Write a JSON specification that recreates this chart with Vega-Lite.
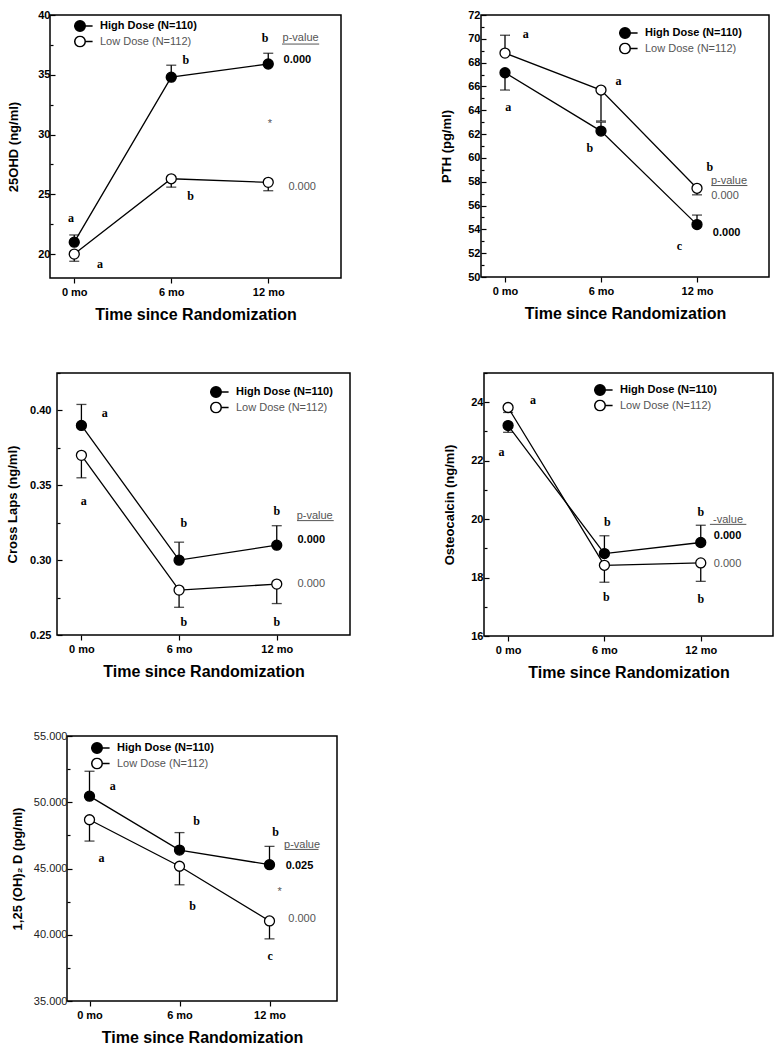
{
  "$schema": "https://vega.github.io/schema/vega-lite/v6.json",
  "padding": {"left": 2, "top": 8, "right": 2, "bottom": 2},
  "background": "white",
  "datasets": {
    "pts": [
      {"p": 1, "g": "High Dose (N=110)", "t": 0, "v": 21.0, "e": 21.6},
      {"p": 1, "g": "High Dose (N=110)", "t": 6, "v": 34.8, "e": 35.8},
      {"p": 1, "g": "High Dose (N=110)", "t": 12, "v": 35.9, "e": 36.8},
      {"p": 1, "g": "Low Dose (N=112)", "t": 0, "v": 20.0, "e": 19.4},
      {"p": 1, "g": "Low Dose (N=112)", "t": 6, "v": 26.3, "e": 25.6},
      {"p": 1, "g": "Low Dose (N=112)", "t": 12, "v": 26.0, "e": 25.3},
      {"p": 2, "g": "High Dose (N=110)", "t": 0, "v": 67.15, "e": 65.7},
      {"p": 2, "g": "High Dose (N=110)", "t": 6, "v": 62.25, "e": 63.0},
      {"p": 2, "g": "High Dose (N=110)", "t": 12, "v": 54.4, "e": 55.2},
      {"p": 2, "g": "Low Dose (N=112)", "t": 0, "v": 68.8, "e": 70.3},
      {"p": 2, "g": "Low Dose (N=112)", "t": 6, "v": 65.7, "e": 63.1},
      {"p": 2, "g": "Low Dose (N=112)", "t": 12, "v": 57.45, "e": 56.9},
      {"p": 3, "g": "High Dose (N=110)", "t": 0, "v": 0.390, "e": 0.404},
      {"p": 3, "g": "High Dose (N=110)", "t": 6, "v": 0.300, "e": 0.312},
      {"p": 3, "g": "High Dose (N=110)", "t": 12, "v": 0.310, "e": 0.323},
      {"p": 3, "g": "Low Dose (N=112)", "t": 0, "v": 0.370, "e": 0.355},
      {"p": 3, "g": "Low Dose (N=112)", "t": 6, "v": 0.280, "e": 0.2685},
      {"p": 3, "g": "Low Dose (N=112)", "t": 12, "v": 0.284, "e": 0.271},
      {"p": 4, "g": "High Dose (N=110)", "t": 0, "v": 23.2, "e": 22.97},
      {"p": 4, "g": "High Dose (N=110)", "t": 6, "v": 18.82, "e": 19.43},
      {"p": 4, "g": "High Dose (N=110)", "t": 12, "v": 19.2, "e": 19.79},
      {"p": 4, "g": "Low Dose (N=112)", "t": 0, "v": 23.82, "e": 23.65},
      {"p": 4, "g": "Low Dose (N=112)", "t": 6, "v": 18.42, "e": 17.84},
      {"p": 4, "g": "Low Dose (N=112)", "t": 12, "v": 18.5, "e": 17.87},
      {"p": 5, "g": "High Dose (N=110)", "t": 0, "v": 50.46, "e": 52.34},
      {"p": 5, "g": "High Dose (N=110)", "t": 6, "v": 46.39, "e": 47.71},
      {"p": 5, "g": "High Dose (N=110)", "t": 12, "v": 45.29, "e": 46.67},
      {"p": 5, "g": "Low Dose (N=112)", "t": 0, "v": 48.68, "e": 47.07},
      {"p": 5, "g": "Low Dose (N=112)", "t": 6, "v": 45.17, "e": 43.77},
      {"p": 5, "g": "Low Dose (N=112)", "t": 12, "v": 41.04, "e": 39.69}
    ],
    "notes": [
      {"p": 1, "k": "L", "t": -0.2, "v": 23.0, "s": "a"},
      {"p": 1, "k": "L", "t": 1.6, "v": 19.2, "s": "a"},
      {"p": 1, "k": "L", "t": 6.9, "v": 36.2, "s": "b"},
      {"p": 1, "k": "L", "t": 7.2, "v": 24.9, "s": "b"},
      {"p": 1, "k": "L", "t": 11.8, "v": 38.1, "s": "b"},
      {"p": 1, "k": "G", "t": 14.0, "v": 38.1, "s": "p-value"},
      {"p": 1, "k": "G", "t": 14.1, "v": 25.6, "s": "0.000"},
      {"p": 1, "k": "G", "t": 12.1, "v": 30.9, "s": "*"},
      {"p": 1, "k": "B", "t": 13.8, "v": 36.2, "s": "0.000"},
      {"p": 2, "k": "L", "t": 1.3, "v": 70.4, "s": "a"},
      {"p": 2, "k": "L", "t": 0.2, "v": 64.3, "s": "a"},
      {"p": 2, "k": "L", "t": 7.1, "v": 66.45, "s": "a"},
      {"p": 2, "k": "L", "t": 5.3, "v": 60.8, "s": "b"},
      {"p": 2, "k": "L", "t": 12.8, "v": 59.2, "s": "b"},
      {"p": 2, "k": "L", "t": 10.9, "v": 52.6, "s": "c"},
      {"p": 2, "k": "G", "t": 14.0, "v": 58.05, "s": "p-value"},
      {"p": 2, "k": "G", "t": 13.75, "v": 56.8, "s": "0.000"},
      {"p": 2, "k": "B", "t": 13.85, "v": 53.7, "s": "0.000"},
      {"p": 3, "k": "L", "t": 1.44, "v": 0.398, "s": "a"},
      {"p": 3, "k": "L", "t": 0.14, "v": 0.3396, "s": "a"},
      {"p": 3, "k": "L", "t": 6.3, "v": 0.3247, "s": "b"},
      {"p": 3, "k": "L", "t": 6.3, "v": 0.2589, "s": "b"},
      {"p": 3, "k": "L", "t": 12.0, "v": 0.3331, "s": "b"},
      {"p": 3, "k": "L", "t": 12.0, "v": 0.2585, "s": "b"},
      {"p": 3, "k": "G", "t": 14.33, "v": 0.3298, "s": "p-value"},
      {"p": 3, "k": "G", "t": 14.12, "v": 0.2839, "s": "0.000"},
      {"p": 3, "k": "B", "t": 14.12, "v": 0.3135, "s": "0.000"},
      {"p": 4, "k": "L", "t": 1.55, "v": 24.08, "s": "a"},
      {"p": 4, "k": "L", "t": -0.41, "v": 22.3, "s": "a"},
      {"p": 4, "k": "L", "t": 6.18, "v": 19.9, "s": "b"},
      {"p": 4, "k": "L", "t": 6.12, "v": 17.33, "s": "b"},
      {"p": 4, "k": "L", "t": 12.0, "v": 20.23, "s": "b"},
      {"p": 4, "k": "L", "t": 12.0, "v": 17.26, "s": "b"},
      {"p": 4, "k": "G", "t": 13.7, "v": 19.97, "s": "-value"},
      {"p": 4, "k": "G", "t": 13.67, "v": 18.48, "s": "0.000"},
      {"p": 4, "k": "B", "t": 13.67, "v": 19.43, "s": "0.000"},
      {"p": 5, "k": "L", "t": 1.55, "v": 51.22, "s": "a"},
      {"p": 5, "k": "L", "t": 0.8, "v": 45.8, "s": "a"},
      {"p": 5, "k": "L", "t": 7.14, "v": 48.55, "s": "b"},
      {"p": 5, "k": "L", "t": 6.87, "v": 42.19, "s": "b"},
      {"p": 5, "k": "L", "t": 12.4, "v": 47.76, "s": "b"},
      {"p": 5, "k": "L", "t": 12.04, "v": 38.42, "s": "c"},
      {"p": 5, "k": "G", "t": 14.17, "v": 46.74, "s": "p-value"},
      {"p": 5, "k": "G", "t": 14.17, "v": 41.17, "s": "0.000"},
      {"p": 5, "k": "G", "t": 12.67, "v": 43.26, "s": "*"},
      {"p": 5, "k": "B", "t": 14.0, "v": 45.22, "s": "0.025"}
    ],
    "ul": [
      {"p": 1, "t": 12.85, "t2": 15.15, "v": 37.57},
      {"p": 2, "t": 12.9, "t2": 15.15, "v": 57.68},
      {"p": 3, "t": 13.25, "t2": 15.5, "v": 0.3264},
      {"p": 4, "t": 12.57, "t2": 14.84, "v": 19.82},
      {"p": 5, "t": 13.04, "t2": 15.27, "v": 46.44}
    ],
    "blank": [{"s": ""}]
  },
  "vconcat": [
    {
      "hconcat": [
        {"width": 5, "height": 10, "data": {"name": "blank"}, "mark": {"type": "text"}, "encoding": {"text": {"field": "s"}}, "view": {"stroke": null}},
        {
          "hconcat": [
            {
              "width": 291, "height": 263,
              "encoding": {
                "x": {"field": "t", "type": "quantitative", "scale": {"domain": [-1.5, 16.5], "nice": false, "zero": false}, "axis": {"values": [0, 6, 12], "labelExpr": "datum.value + ' mo'", "title": "Time since Randomization"}},
                "y": {"field": "v", "type": "quantitative", "scale": {"domain": [18, 40], "nice": false, "zero": false}, "axis": {"title": "25OHD (ng/ml)", "values": [20, 22.5, 25, 27.5, 30, 32.5, 35, 37.5, 40], "labelExpr": "datum.value % 5 == 0 ? datum.label : ''", "tickSize": {"condition": {"test": "datum.value % 5 != 0", "value": -3}, "value": -5}, "titlePadding": 17, "labelPadding": 5}}
              },
              "layer": [
                {"data": {"name": "pts"}, "transform": [{"filter": "datum.p == 1"}], "mark": {"type": "line", "color": "black", "strokeWidth": 1.3}, "encoding": {"detail": {"field": "g"}}},
                {"data": {"name": "pts"}, "transform": [{"filter": "datum.p == 1"}], "mark": {"type": "rule", "color": "black", "strokeWidth": 1.3}, "encoding": {"y2": {"field": "e"}}},
                {"data": {"name": "pts"}, "transform": [{"filter": "datum.p == 1"}], "mark": {"type": "tick", "orient": "horizontal", "size": 10, "thickness": 1.3, "color": "black"}, "encoding": {"y": {"field": "e", "type": "quantitative", "scale": {"domain": [18, 40], "nice": false, "zero": false}}}},
                {"data": {"name": "pts"}, "transform": [{"filter": "datum.p == 1"}], "mark": {"type": "point", "shape": "circle", "filled": true, "size": 100, "stroke": "black", "strokeWidth": 1.3, "opacity": 1}, "encoding": {"fill": {"field": "g", "type": "nominal", "scale": {"domain": ["High Dose (N=110)", "Low Dose (N=112)"], "range": ["black", "white"]}, "legend": {"orient": "none", "legendX": 24, "legendY": 5, "title": null}}}},
                {"data": {"name": "notes"}, "transform": [{"filter": "datum.p == 1 && datum.k == 'L'"}], "mark": {"type": "text", "style": "letter"}, "encoding": {"text": {"field": "s"}}},
                {"data": {"name": "notes"}, "transform": [{"filter": "datum.p == 1 && datum.k == 'B'"}], "mark": {"type": "text", "style": "pbold"}, "encoding": {"text": {"field": "s"}}},
                {"data": {"name": "notes"}, "transform": [{"filter": "datum.p == 1 && datum.k == 'G'"}], "mark": {"type": "text", "style": "pgray"}, "encoding": {"text": {"field": "s"}}},
                {"data": {"name": "ul"}, "transform": [{"filter": "datum.p == 1"}], "mark": {"type": "rule", "color": "#555555", "strokeWidth": 1}, "encoding": {"x2": {"field": "t2"}}}
              ]
            },
            {
              "width": 288, "height": 262,
              "encoding": {
                "x": {"field": "t", "type": "quantitative", "scale": {"domain": [-1.5, 16.5], "nice": false, "zero": false}, "axis": {"values": [0, 6, 12], "labelExpr": "datum.value + ' mo'", "title": "Time since Randomization"}},
                "y": {"field": "v", "type": "quantitative", "scale": {"domain": [50, 72], "nice": false, "zero": false}, "axis": {"title": "PTH (pg/ml)", "values": [50, 51, 52, 53, 54, 55, 56, 57, 58, 59, 60, 61, 62, 63, 64, 65, 66, 67, 68, 69, 70, 71, 72], "labelExpr": "datum.value % 2 == 0 ? datum.label : ''", "tickSize": {"condition": {"test": "datum.value % 2 != 0", "value": -3}, "value": -5}, "titlePadding": 14, "labelPadding": 6}}
              },
              "layer": [
                {"data": {"name": "pts"}, "transform": [{"filter": "datum.p == 2"}], "mark": {"type": "line", "color": "black", "strokeWidth": 1.3}, "encoding": {"detail": {"field": "g"}}},
                {"data": {"name": "pts"}, "transform": [{"filter": "datum.p == 2"}], "mark": {"type": "rule", "color": "black", "strokeWidth": 1.3}, "encoding": {"y2": {"field": "e"}}},
                {"data": {"name": "pts"}, "transform": [{"filter": "datum.p == 2"}], "mark": {"type": "tick", "orient": "horizontal", "size": 10, "thickness": 1.3, "color": "black"}, "encoding": {"y": {"field": "e", "type": "quantitative", "scale": {"domain": [50, 72], "nice": false, "zero": false}}}},
                {"data": {"name": "pts"}, "transform": [{"filter": "datum.p == 2"}], "mark": {"type": "point", "shape": "circle", "filled": true, "size": 100, "stroke": "black", "strokeWidth": 1.3, "opacity": 1}, "encoding": {"fill": {"field": "g", "type": "nominal", "scale": {"domain": ["High Dose (N=110)", "Low Dose (N=112)"], "range": ["black", "white"]}, "legend": {"orient": "none", "legendX": 138, "legendY": 12, "title": null}}}},
                {"data": {"name": "notes"}, "transform": [{"filter": "datum.p == 2 && datum.k == 'L'"}], "mark": {"type": "text", "style": "letter"}, "encoding": {"text": {"field": "s"}}},
                {"data": {"name": "notes"}, "transform": [{"filter": "datum.p == 2 && datum.k == 'B'"}], "mark": {"type": "text", "style": "pbold"}, "encoding": {"text": {"field": "s"}}},
                {"data": {"name": "notes"}, "transform": [{"filter": "datum.p == 2 && datum.k == 'G'"}], "mark": {"type": "text", "style": "pgray"}, "encoding": {"text": {"field": "s"}}},
                {"data": {"name": "ul"}, "transform": [{"filter": "datum.p == 2"}], "mark": {"type": "rule", "color": "#555555", "strokeWidth": 1}, "encoding": {"x2": {"field": "t2"}}}
              ]
            }
          ],
          "spacing": 98,
          "resolve": {"scale": {"fill": "independent"}, "legend": {"fill": "independent"}}
        }
      ],
      "spacing": 0,
      "resolve": {"scale": {"fill": "independent"}, "legend": {"fill": "independent"}}
    },
    {
      "hconcat": [
        {"width": 3, "height": 10, "data": {"name": "blank"}, "mark": {"type": "text"}, "encoding": {"text": {"field": "s"}}, "view": {"stroke": null}},
        {
          "hconcat": [
            {
              "width": 293, "height": 262,
              "encoding": {
                "x": {"field": "t", "type": "quantitative", "scale": {"domain": [-1.5, 16.5], "nice": false, "zero": false}, "axis": {"values": [0, 6, 12], "labelExpr": "datum.value + ' mo'", "title": "Time since Randomization"}},
                "y": {"field": "v", "type": "quantitative", "scale": {"domain": [0.25, 0.425], "nice": false, "zero": false}, "axis": {"title": "Cross Laps (ng/ml)", "format": ".2f", "values": [0.25, 0.275, 0.3, 0.325, 0.35, 0.375, 0.4, 0.425], "labelExpr": "round(datum.value * 40) % 2 == 0 ? datum.label : ''", "tickSize": {"condition": {"test": "round(datum.value * 40) % 2 != 0", "value": -3}, "value": -5}, "titlePadding": 10, "labelPadding": 11}}
              },
              "layer": [
                {"data": {"name": "pts"}, "transform": [{"filter": "datum.p == 3"}], "mark": {"type": "line", "color": "black", "strokeWidth": 1.3}, "encoding": {"detail": {"field": "g"}}},
                {"data": {"name": "pts"}, "transform": [{"filter": "datum.p == 3"}], "mark": {"type": "rule", "color": "black", "strokeWidth": 1.3}, "encoding": {"y2": {"field": "e"}}},
                {"data": {"name": "pts"}, "transform": [{"filter": "datum.p == 3"}], "mark": {"type": "tick", "orient": "horizontal", "size": 10, "thickness": 1.3, "color": "black"}, "encoding": {"y": {"field": "e", "type": "quantitative", "scale": {"domain": [0.25, 0.425], "nice": false, "zero": false}}}},
                {"data": {"name": "pts"}, "transform": [{"filter": "datum.p == 3"}], "mark": {"type": "point", "shape": "circle", "filled": true, "size": 100, "stroke": "black", "strokeWidth": 1.3, "opacity": 1}, "encoding": {"fill": {"field": "g", "type": "nominal", "scale": {"domain": ["High Dose (N=110)", "Low Dose (N=112)"], "range": ["black", "white"]}, "legend": {"orient": "none", "legendX": 153, "legendY": 13, "title": null}}}},
                {"data": {"name": "notes"}, "transform": [{"filter": "datum.p == 3 && datum.k == 'L'"}], "mark": {"type": "text", "style": "letter"}, "encoding": {"text": {"field": "s"}}},
                {"data": {"name": "notes"}, "transform": [{"filter": "datum.p == 3 && datum.k == 'B'"}], "mark": {"type": "text", "style": "pbold"}, "encoding": {"text": {"field": "s"}}},
                {"data": {"name": "notes"}, "transform": [{"filter": "datum.p == 3 && datum.k == 'G'"}], "mark": {"type": "text", "style": "pgray"}, "encoding": {"text": {"field": "s"}}},
                {"data": {"name": "ul"}, "transform": [{"filter": "datum.p == 3"}], "mark": {"type": "rule", "color": "#555555", "strokeWidth": 1}, "encoding": {"x2": {"field": "t2"}}}
              ]
            },
            {
              "width": 289, "height": 263,
              "encoding": {
                "x": {"field": "t", "type": "quantitative", "scale": {"domain": [-1.5, 16.5], "nice": false, "zero": false}, "axis": {"values": [0, 6, 12], "labelExpr": "datum.value + ' mo'", "title": "Time since Randomization"}},
                "y": {"field": "v", "type": "quantitative", "scale": {"domain": [16, 25], "nice": false, "zero": false}, "axis": {"title": "Osteocalcin (ng/ml)", "values": [16, 17, 18, 19, 20, 21, 22, 23, 24, 25], "labelExpr": "datum.value % 2 == 0 ? datum.label : ''", "tickSize": {"condition": {"test": "datum.value % 2 != 0", "value": -3}, "value": -5}, "titlePadding": 14, "labelPadding": 6}}
              },
              "layer": [
                {"data": {"name": "pts"}, "transform": [{"filter": "datum.p == 4"}], "mark": {"type": "line", "color": "black", "strokeWidth": 1.3}, "encoding": {"detail": {"field": "g"}}},
                {"data": {"name": "pts"}, "transform": [{"filter": "datum.p == 4"}], "mark": {"type": "rule", "color": "black", "strokeWidth": 1.3}, "encoding": {"y2": {"field": "e"}}},
                {"data": {"name": "pts"}, "transform": [{"filter": "datum.p == 4"}], "mark": {"type": "tick", "orient": "horizontal", "size": 10, "thickness": 1.3, "color": "black"}, "encoding": {"y": {"field": "e", "type": "quantitative", "scale": {"domain": [16, 25], "nice": false, "zero": false}}}},
                {"data": {"name": "pts"}, "transform": [{"filter": "datum.p == 4"}], "mark": {"type": "point", "shape": "circle", "filled": true, "size": 100, "stroke": "black", "strokeWidth": 1.3, "opacity": 1}, "encoding": {"fill": {"field": "g", "type": "nominal", "scale": {"domain": ["High Dose (N=110)", "Low Dose (N=112)"], "range": ["black", "white"]}, "legend": {"orient": "none", "legendX": 110, "legendY": 11, "title": null}}}},
                {"data": {"name": "notes"}, "transform": [{"filter": "datum.p == 4 && datum.k == 'L'"}], "mark": {"type": "text", "style": "letter"}, "encoding": {"text": {"field": "s"}}},
                {"data": {"name": "notes"}, "transform": [{"filter": "datum.p == 4 && datum.k == 'B'"}], "mark": {"type": "text", "style": "pbold"}, "encoding": {"text": {"field": "s"}}},
                {"data": {"name": "notes"}, "transform": [{"filter": "datum.p == 4 && datum.k == 'G'"}], "mark": {"type": "text", "style": "pgray"}, "encoding": {"text": {"field": "s"}}},
                {"data": {"name": "ul"}, "transform": [{"filter": "datum.p == 4"}], "mark": {"type": "rule", "color": "#555555", "strokeWidth": 1}, "encoding": {"x2": {"field": "t2"}}}
              ]
            }
          ],
          "spacing": 92,
          "resolve": {"scale": {"fill": "independent"}, "legend": {"fill": "independent"}}
        }
      ],
      "spacing": 0,
      "resolve": {"scale": {"fill": "independent"}, "legend": {"fill": "independent"}}
    },
    {
      "hconcat": [
        {"width": 8, "height": 10, "data": {"name": "blank"}, "mark": {"type": "text"}, "encoding": {"text": {"field": "s"}}, "view": {"stroke": null}},
        {
          "width": 270, "height": 265,
          "encoding": {
            "x": {"field": "t", "type": "quantitative", "scale": {"domain": [-1.5, 16.5], "nice": false, "zero": false}, "axis": {"values": [0, 6, 12], "labelExpr": "datum.value + ' mo'", "title": "Time since Randomization"}},
            "y": {"field": "v", "type": "quantitative", "scale": {"domain": [35, 55], "nice": false, "zero": false}, "axis": {"title": "1,25 (OH)₂ D (pg/ml)", "format": ".3f", "labelFontWeight": "normal", "labelColor": "#222222", "values": [35, 37.5, 40, 42.5, 45, 47.5, 50, 52.5, 55], "labelExpr": "datum.value % 5 == 0 ? datum.label : ''", "tickSize": {"condition": {"test": "datum.value % 5 != 0", "value": -3}, "value": -5}, "titlePadding": 9, "labelPadding": 5}}
          },
          "layer": [
            {"data": {"name": "pts"}, "transform": [{"filter": "datum.p == 5"}], "mark": {"type": "line", "color": "black", "strokeWidth": 1.3}, "encoding": {"detail": {"field": "g"}}},
            {"data": {"name": "pts"}, "transform": [{"filter": "datum.p == 5"}], "mark": {"type": "rule", "color": "black", "strokeWidth": 1.3}, "encoding": {"y2": {"field": "e"}}},
            {"data": {"name": "pts"}, "transform": [{"filter": "datum.p == 5"}], "mark": {"type": "tick", "orient": "horizontal", "size": 10, "thickness": 1.3, "color": "black"}, "encoding": {"y": {"field": "e", "type": "quantitative", "scale": {"domain": [35, 55], "nice": false, "zero": false}}}},
            {"data": {"name": "pts"}, "transform": [{"filter": "datum.p == 5"}], "mark": {"type": "point", "shape": "circle", "filled": true, "size": 100, "stroke": "black", "strokeWidth": 1.3, "opacity": 1}, "encoding": {"fill": {"field": "g", "type": "nominal", "scale": {"domain": ["High Dose (N=110)", "Low Dose (N=112)"], "range": ["black", "white"]}, "legend": {"orient": "none", "legendX": 24, "legendY": 6, "title": null}}}},
            {"data": {"name": "notes"}, "transform": [{"filter": "datum.p == 5 && datum.k == 'L'"}], "mark": {"type": "text", "style": "letter"}, "encoding": {"text": {"field": "s"}}},
            {"data": {"name": "notes"}, "transform": [{"filter": "datum.p == 5 && datum.k == 'B'"}], "mark": {"type": "text", "style": "pbold"}, "encoding": {"text": {"field": "s"}}},
            {"data": {"name": "notes"}, "transform": [{"filter": "datum.p == 5 && datum.k == 'G'"}], "mark": {"type": "text", "style": "pgray"}, "encoding": {"text": {"field": "s"}}},
            {"data": {"name": "ul"}, "transform": [{"filter": "datum.p == 5"}], "mark": {"type": "rule", "color": "#555555", "strokeWidth": 1}, "encoding": {"x2": {"field": "t2"}}}
          ]
        }
      ],
      "spacing": 0,
      "resolve": {"scale": {"fill": "independent"}, "legend": {"fill": "independent"}}
    }
  ],
  "spacing": 48,
  "resolve": {"scale": {"fill": "independent"}, "legend": {"fill": "independent"}},
  "config": {
    "view": {"stroke": "black", "strokeWidth": 1.5},
    "axis": {"labelFont": "Liberation Sans", "labelFontWeight": "bold", "labelFontSize": 11, "labelColor": "black", "titleFont": "Liberation Sans", "titleFontWeight": "bold", "titleColor": "black", "grid": false, "domain": false, "tickColor": "black", "tickWidth": 1.2},
    "axisX": {"tickSize": 5, "titleFontSize": 16, "labelPadding": 3, "titlePadding": 9},
    "axisY": {"titleFontSize": 13},
    "legend": {
      "padding": 0,
      "symbolType": "M-2.4,0L-1,0M1,0L2.4,0M-1,0A1,1,0,1,0,1,0A1,1,0,1,0,-1,0Z",
      "symbolSize": 110,
      "symbolStrokeColor": "black",
      "symbolStrokeWidth": 1.5,
      "labelOffset": 14,
      "rowPadding": 3.5,
      "clipHeight": 12,
      "labelFontSize": 11,
      "labelFont": "Liberation Sans",
      "labelFontWeight": {"expr": "datum.label == 'High Dose (N=110)' ? 'bold' : 'normal'"},
      "labelColor": {"expr": "datum.label == 'High Dose (N=110)' ? 'black' : '#555555'"}
    },
    "style": {
      "letter": {"font": "Liberation Serif", "fontWeight": "bold", "fontSize": 12, "color": "black", "align": "center", "baseline": "middle"},
      "pbold": {"font": "Liberation Sans", "fontWeight": "bold", "fontSize": 11, "color": "black", "align": "center", "baseline": "middle"},
      "pgray": {"font": "Liberation Sans", "fontWeight": "normal", "fontSize": 11, "color": "#555555", "align": "center", "baseline": "middle"}
    }
  }
}
